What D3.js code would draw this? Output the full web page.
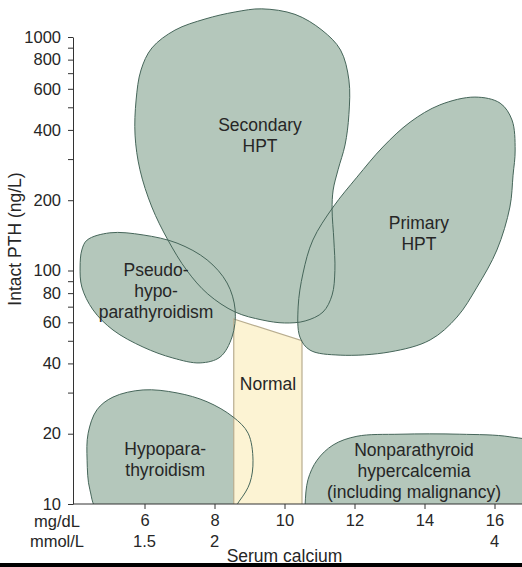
<!DOCTYPE html>
<html>
<head>
<meta charset="utf-8">
<script src="https://cdn.jsdelivr.net/npm/d3@7"></script>
<style>
  body { margin: 0; background: #fff; }
  svg { display: block; }
  text { font-family: "Liberation Sans", Arial, Helvetica, sans-serif; fill: #262626; }
</style>
</head>
<body>
<svg id="chart" width="522" height="567"></svg>
<script>
// Intact PTH (ng/L, log scale) against serum calcium (mg/dL)

const yTickValues = [10, 20, 30, 40, 50, 60, 70, 80, 90, 100, 200, 300, 400, 500, 600, 700, 800, 900, 1000];
const yTickLabels = [10, 20, 40, 60, 80, 100, 200, 400, 600, 800, 1000];
const xTickValues = [6, 8, 10, 12, 14, 16];
const mmolLabels = [[6, "1.5"], [8, "2"], [16, "4"]];

// Region outlines as [calcium mg/dL, PTH ng/L]
const secondaryHPT = [
  [9.35, 1320], [10.3, 1250], [11.07, 1070], [11.6, 880], [11.84, 655], [11.84, 465],
  [11.73, 345], [11.53, 270], [11.39, 221], [11.36, 182], [11.41, 135], [11.44, 100],
  [11.36, 78.5], [11.1, 66.4], [10.59, 60.8], [10.0, 59.6], [9.36, 61.4], [8.59, 66.4],
  [7.81, 79.3], [7.21, 100], [6.67, 135], [6.21, 187], [5.87, 270], [5.73, 380],
  [5.76, 537], [5.9, 722], [6.21, 897], [6.87, 1070], [7.73, 1194], [8.59, 1280]
];
const primaryHPT = [
  [15.44, 553], [16.16, 521], [16.5, 441], [16.59, 328], [16.53, 256], [16.44, 187],
  [16.07, 122.5], [15.5, 84.9], [14.93, 63.2], [14.16, 50.4], [13.01, 44.8], [11.59, 43.4],
  [10.73, 45.6], [10.44, 51.9], [10.39, 69.8], [10.53, 97.5], [10.81, 135], [11.39, 187],
  [12.07, 251], [12.81, 338], [13.59, 432], [14.44, 512]
];
const pseudoHypoPT = [
  [4.36, 135], [5.01, 145], [5.96, 142], [6.93, 131], [7.79, 111], [8.36, 88.4],
  [8.59, 67.8], [8.5, 51.9], [8.16, 42.6], [7.59, 40.2], [6.81, 42.2], [5.96, 47.0],
  [5.1, 55.6], [4.53, 67.8], [4.21, 84.9], [4.16, 103.5], [4.21, 122.5]
];
const hypoPT = [
  [5.1, 28.7], [5.96, 30.8], [6.93, 29.9], [7.79, 27.4], [8.53, 23.6], [8.96, 20.1],
  [9.1, 15.4], [9.01, 12.3], [8.73, 10.4], [8.39, 9.2], [4.73, 9.2], [4.44, 11.5],
  [4.36, 15.4], [4.39, 20.1], [4.64, 25.3]
];
const nonPTHypercalcemia = [
  [12.07, 19.5], [13.3, 19.9], [15.01, 19.9], [16.44, 19.4], [17.3, 17.9], [17.73, 12.7],
  [17.73, 8.5], [10.59, 8.5], [10.59, 10.0], [10.67, 12.7], [10.93, 15.4], [11.39, 17.9]
];
const normalRange = [[8.55, 9], [8.55, 62], [10.5, 50], [10.5, 9]];

const regionNames = [
  { lines: ["Secondary", "HPT"], at: [9.3, 395] },
  { lines: ["Primary", "HPT"], at: [13.84, 151] },
  { lines: ["Pseudo-", "hypo-", "parathyroidism"], at: [6.33, 94.6] },
  { lines: ["Hypopara-", "thyroidism"], at: [6.59, 16.2] },
  { lines: ["Normal"], at: [9.53, 30.8] },
  { lines: ["Nonparathyroid", "hypercalcemia", "(including malignancy)"], at: [13.7, 16.05] }
];

const W = 522, H = 567;
const svg = d3.select("#chart");

const x = d3.scaleLinear().domain([4, 16]).range([74.5, 494.5]);
const y = d3.scaleLog().domain([10, 1000]).range([504, 37]);
const x0 = 73, y0 = 504;

const blobFill = "#b4c7bb", blobStroke = "#46665a";
const normalFill = "#fcf3d3", normalStroke = "#b8ad8f";

svg.append("clipPath").attr("id", "plot-clip")
  .append("rect").attr("x", x0).attr("y", 0).attr("width", W - x0).attr("height", y0);

const blob = d3.line().x(d => x(d[0])).y(d => y(d[1])).curve(d3.curveCatmullRomClosed.alpha(0.5));
const poly = d3.line().x(d => x(d[0])).y(d => y(d[1])).curve(d3.curveLinearClosed);

const blobs = [secondaryHPT, primaryHPT, pseudoHypoPT, hypoPT, nonPTHypercalcemia];
const plot = svg.append("g").attr("clip-path", "url(#plot-clip)");

// fills first, then the normal band, then every outline on top
plot.selectAll("path.fill").data(blobs).join("path")
  .attr("class", "fill").attr("d", blob).attr("fill", blobFill);

plot.append("path").datum(normalRange).attr("d", poly)
  .attr("fill", normalFill).attr("stroke", normalStroke).attr("stroke-width", 1.2);

plot.selectAll("path.edge").data(blobs).join("path")
  .attr("class", "edge").attr("d", blob).attr("fill", "none")
  .attr("stroke", blobStroke).attr("stroke-width", 1);

// region labels
const lineGap = 21;
svg.selectAll("text.region").data(regionNames).join("text")
  .attr("class", "region")
  .attr("text-anchor", "middle")
  .style("font-size", "17.5px")
  .each(function(d) {
    const t = d3.select(this);
    d.lines.forEach((s, i) => {
      t.append("tspan").attr("x", x(d.at[0])).attr("y", y(d.at[1]) + i * lineGap).text(s);
    });
  });

// y axis
const yAxis = d3.axisLeft(y)
  .tickValues(yTickValues)
  .tickSize(5).tickSizeOuter(0).tickPadding(7)
  .tickFormat(d => yTickLabels.includes(d) ? d : "");
const gy = svg.append("g").attr("transform", `translate(${x0},0)`).call(yAxis);
gy.select(".domain").attr("stroke", "#333");
gy.selectAll(".tick line").attr("stroke", "#333");
gy.selectAll(".tick text").style("font-size", "16.5px").attr("fill", "#262626")
  .style("font-family", "'Liberation Sans', Arial, sans-serif");

// x axis
const xAxis = d3.axisBottom(x).tickValues(xTickValues).tickSize(5).tickSizeOuter(0).tickPadding(5);
const gx = svg.append("g").attr("transform", `translate(0,${y0})`).call(xAxis);
gx.select(".domain").remove();
gx.append("line").attr("x1", x0).attr("x2", W).attr("y1", 0).attr("y2", 0).attr("stroke", "#333");
gx.selectAll(".tick line").attr("stroke", "#333");
gx.selectAll(".tick text").style("font-size", "16.5px").attr("fill", "#262626")
  .style("font-family", "'Liberation Sans', Arial, sans-serif");

// mmol/L row
svg.selectAll("text.mmol").data(mmolLabels).join("text")
  .attr("class", "mmol").attr("text-anchor", "middle")
  .attr("x", d => x(d[0])).attr("y", 547)
  .style("font-size", "16.5px").text(d => d[1]);

svg.append("text").attr("x", 57).attr("y", 527).attr("text-anchor", "middle")
  .style("font-size", "16.5px").text("mg/dL");
svg.append("text").attr("x", 57).attr("y", 547).attr("text-anchor", "middle")
  .style("font-size", "16.5px").text("mmol/L");

// axis titles
svg.append("text").attr("x", x(10)).attr("y", 562).attr("text-anchor", "middle")
  .style("font-size", "17.5px").text("Serum calcium");
svg.append("text").attr("transform", "translate(21,239) rotate(-90)")
  .attr("text-anchor", "middle").style("font-size", "17.5px").text("Intact PTH (ng/L)");

// bottom rule
svg.append("rect").attr("x", 0).attr("y", 563).attr("width", W).attr("height", H - 563).attr("fill", "#000");
</script>
</body>
</html>
